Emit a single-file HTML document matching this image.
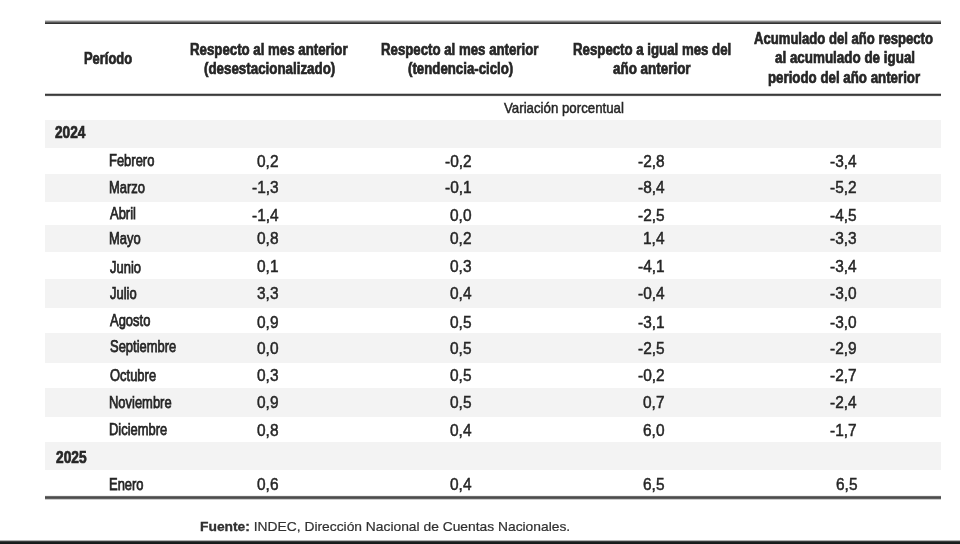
<!DOCTYPE html>
<html><head><meta charset="utf-8"><style>
html,body{margin:0;padding:0;background:#fff;}
body{width:960px;height:544px;position:relative;overflow:hidden;font-family:"Liberation Sans",sans-serif;}
.t{position:absolute;white-space:nowrap;transform-origin:0 0;color:#262626;-webkit-text-stroke:0.5px #262626;}
.b{-webkit-text-stroke:0.7px #262626;}
.m{-webkit-text-stroke:0.75px #262626;}
.band{position:absolute;left:45px;width:896px;background:#f3f3f3;}
.rule{position:absolute;left:45px;width:896px;background:#333;}
#fuente{-webkit-text-stroke:0.2px #262626;color:#333;}
#fuente b{-webkit-text-stroke:0.3px #262626;}
#wrap{position:absolute;left:0;top:0;width:960px;height:544px;filter:blur(0.35px);}
</style></head><body><div id="wrap">
<div class="band" style="top:120.2px;height:27.60000000000001px"></div><div class="band" style="top:174.2px;height:27.5px"></div><div class="band" style="top:225.1px;height:27.400000000000006px"></div><div class="band" style="top:278.6px;height:29.69999999999999px"></div><div class="band" style="top:333.1px;height:29.599999999999966px"></div><div class="band" style="top:387.6px;height:29.399999999999977px"></div><div class="band" style="top:441.8px;height:28.399999999999977px"></div>
<div class="t b" style="left:84.09px;top:49px;font-size:16px;line-height:19px;font-weight:bold;transform:scaleX(0.8080)">Período</div><div class="t b" style="left:190.17px;top:40px;font-size:16px;line-height:19px;font-weight:bold;transform:scaleX(0.8283)">Respecto al mes anterior</div><div class="t b" style="left:204.00px;top:59px;font-size:16px;line-height:19px;font-weight:bold;transform:scaleX(0.8341)">(desestacionalizado)</div><div class="t b" style="left:381.17px;top:40px;font-size:16px;line-height:19px;font-weight:bold;transform:scaleX(0.8272)">Respecto al mes anterior</div><div class="t b" style="left:408.00px;top:59px;font-size:16px;line-height:19px;font-weight:bold;transform:scaleX(0.8280)">(tendencia-ciclo)</div><div class="t b" style="left:573.17px;top:40px;font-size:16px;line-height:19px;font-weight:bold;transform:scaleX(0.8275)">Respecto a igual mes del</div><div class="t b" style="left:613.00px;top:59px;font-size:16px;line-height:19px;font-weight:bold;transform:scaleX(0.8392)">año anterior</div><div class="t b" style="left:754.25px;top:29px;font-size:16px;line-height:19px;font-weight:bold;transform:scaleX(0.8183)">Acumulado del año respecto</div><div class="t b" style="left:775.00px;top:48px;font-size:16px;line-height:19px;font-weight:bold;transform:scaleX(0.8380)">al acumulado de igual</div><div class="t b" style="left:767.97px;top:68px;font-size:16px;line-height:19px;font-weight:bold;transform:scaleX(0.8306)">periodo del año anterior</div><div class="t" style="left:504.00px;top:99px;font-size:15px;line-height:18px;font-weight:normal;transform:scaleX(0.8839)">Variación porcentual</div><div class="t b" style="left:55.40px;top:123px;font-size:16px;line-height:19px;font-weight:bold;transform:scaleX(0.8517)">2024</div><div class="t b" style="left:55.60px;top:448px;font-size:16px;line-height:19px;font-weight:bold;transform:scaleX(0.8573)">2025</div><div class="t m" style="left:109.22px;top:151px;font-size:16.6px;line-height:20px;font-weight:normal;transform:scaleX(0.7807)">Febrero</div><div class="t" style="left:257.45px;top:152px;font-size:17px;line-height:20px;font-weight:normal;transform:scaleX(0.9082)">0,2</div><div class="t" style="left:445.11px;top:152px;font-size:17px;line-height:20px;font-weight:normal;transform:scaleX(0.9082)">-0,2</div><div class="t" style="left:637.81px;top:152px;font-size:17px;line-height:20px;font-weight:normal;transform:scaleX(0.9082)">-2,8</div><div class="t" style="left:830.41px;top:152px;font-size:17px;line-height:20px;font-weight:normal;transform:scaleX(0.9082)">-3,4</div><div class="t m" style="left:109.22px;top:178px;font-size:16.6px;line-height:20px;font-weight:normal;transform:scaleX(0.7807)">Marzo</div><div class="t" style="left:252.31px;top:178px;font-size:17px;line-height:20px;font-weight:normal;transform:scaleX(0.9082)">-1,3</div><div class="t" style="left:445.11px;top:178px;font-size:17px;line-height:20px;font-weight:normal;transform:scaleX(0.9082)">-0,1</div><div class="t" style="left:637.81px;top:178px;font-size:17px;line-height:20px;font-weight:normal;transform:scaleX(0.9082)">-8,4</div><div class="t" style="left:830.41px;top:178px;font-size:17px;line-height:20px;font-weight:normal;transform:scaleX(0.9082)">-5,2</div><div class="t m" style="left:110.00px;top:204px;font-size:16.6px;line-height:20px;font-weight:normal;transform:scaleX(0.7807)">Abril</div><div class="t" style="left:252.31px;top:206px;font-size:17px;line-height:20px;font-weight:normal;transform:scaleX(0.9082)">-1,4</div><div class="t" style="left:450.25px;top:206px;font-size:17px;line-height:20px;font-weight:normal;transform:scaleX(0.9082)">0,0</div><div class="t" style="left:637.81px;top:206px;font-size:17px;line-height:20px;font-weight:normal;transform:scaleX(0.9082)">-2,5</div><div class="t" style="left:830.41px;top:206px;font-size:17px;line-height:20px;font-weight:normal;transform:scaleX(0.9082)">-4,5</div><div class="t m" style="left:109.22px;top:229px;font-size:16.6px;line-height:20px;font-weight:normal;transform:scaleX(0.7807)">Mayo</div><div class="t" style="left:257.45px;top:229px;font-size:17px;line-height:20px;font-weight:normal;transform:scaleX(0.9082)">0,8</div><div class="t" style="left:450.25px;top:229px;font-size:17px;line-height:20px;font-weight:normal;transform:scaleX(0.9082)">0,2</div><div class="t" style="left:642.95px;top:229px;font-size:17px;line-height:20px;font-weight:normal;transform:scaleX(0.9082)">1,4</div><div class="t" style="left:830.41px;top:229px;font-size:17px;line-height:20px;font-weight:normal;transform:scaleX(0.9082)">-3,3</div><div class="t m" style="left:110.00px;top:258px;font-size:16.6px;line-height:20px;font-weight:normal;transform:scaleX(0.7807)">Junio</div><div class="t" style="left:257.45px;top:257px;font-size:17px;line-height:20px;font-weight:normal;transform:scaleX(0.9082)">0,1</div><div class="t" style="left:450.25px;top:257px;font-size:17px;line-height:20px;font-weight:normal;transform:scaleX(0.9082)">0,3</div><div class="t" style="left:637.81px;top:257px;font-size:17px;line-height:20px;font-weight:normal;transform:scaleX(0.9082)">-4,1</div><div class="t" style="left:830.41px;top:257px;font-size:17px;line-height:20px;font-weight:normal;transform:scaleX(0.9082)">-3,4</div><div class="t m" style="left:110.00px;top:284px;font-size:16.6px;line-height:20px;font-weight:normal;transform:scaleX(0.7807)">Julio</div><div class="t" style="left:257.45px;top:284px;font-size:17px;line-height:20px;font-weight:normal;transform:scaleX(0.9082)">3,3</div><div class="t" style="left:450.25px;top:284px;font-size:17px;line-height:20px;font-weight:normal;transform:scaleX(0.9082)">0,4</div><div class="t" style="left:637.81px;top:284px;font-size:17px;line-height:20px;font-weight:normal;transform:scaleX(0.9082)">-0,4</div><div class="t" style="left:830.41px;top:284px;font-size:17px;line-height:20px;font-weight:normal;transform:scaleX(0.9082)">-3,0</div><div class="t m" style="left:110.00px;top:311px;font-size:16.6px;line-height:20px;font-weight:normal;transform:scaleX(0.7807)">Agosto</div><div class="t" style="left:257.45px;top:313px;font-size:17px;line-height:20px;font-weight:normal;transform:scaleX(0.9082)">0,9</div><div class="t" style="left:450.25px;top:313px;font-size:17px;line-height:20px;font-weight:normal;transform:scaleX(0.9082)">0,5</div><div class="t" style="left:637.81px;top:313px;font-size:17px;line-height:20px;font-weight:normal;transform:scaleX(0.9082)">-3,1</div><div class="t" style="left:830.41px;top:313px;font-size:17px;line-height:20px;font-weight:normal;transform:scaleX(0.9082)">-3,0</div><div class="t m" style="left:110.00px;top:337px;font-size:16.6px;line-height:20px;font-weight:normal;transform:scaleX(0.7807)">Septiembre</div><div class="t" style="left:257.45px;top:339px;font-size:17px;line-height:20px;font-weight:normal;transform:scaleX(0.9082)">0,0</div><div class="t" style="left:450.25px;top:339px;font-size:17px;line-height:20px;font-weight:normal;transform:scaleX(0.9082)">0,5</div><div class="t" style="left:637.81px;top:339px;font-size:17px;line-height:20px;font-weight:normal;transform:scaleX(0.9082)">-2,5</div><div class="t" style="left:830.41px;top:339px;font-size:17px;line-height:20px;font-weight:normal;transform:scaleX(0.9082)">-2,9</div><div class="t m" style="left:110.00px;top:366px;font-size:16.6px;line-height:20px;font-weight:normal;transform:scaleX(0.7807)">Octubre</div><div class="t" style="left:257.45px;top:366px;font-size:17px;line-height:20px;font-weight:normal;transform:scaleX(0.9082)">0,3</div><div class="t" style="left:450.25px;top:366px;font-size:17px;line-height:20px;font-weight:normal;transform:scaleX(0.9082)">0,5</div><div class="t" style="left:637.81px;top:366px;font-size:17px;line-height:20px;font-weight:normal;transform:scaleX(0.9082)">-0,2</div><div class="t" style="left:830.41px;top:366px;font-size:17px;line-height:20px;font-weight:normal;transform:scaleX(0.9082)">-2,7</div><div class="t m" style="left:109.22px;top:393px;font-size:16.6px;line-height:20px;font-weight:normal;transform:scaleX(0.7807)">Noviembre</div><div class="t" style="left:257.45px;top:393px;font-size:17px;line-height:20px;font-weight:normal;transform:scaleX(0.9082)">0,9</div><div class="t" style="left:450.25px;top:393px;font-size:17px;line-height:20px;font-weight:normal;transform:scaleX(0.9082)">0,5</div><div class="t" style="left:642.95px;top:393px;font-size:17px;line-height:20px;font-weight:normal;transform:scaleX(0.9082)">0,7</div><div class="t" style="left:830.41px;top:393px;font-size:17px;line-height:20px;font-weight:normal;transform:scaleX(0.9082)">-2,4</div><div class="t m" style="left:109.22px;top:420px;font-size:16.6px;line-height:20px;font-weight:normal;transform:scaleX(0.7807)">Diciembre</div><div class="t" style="left:257.45px;top:421px;font-size:17px;line-height:20px;font-weight:normal;transform:scaleX(0.9082)">0,8</div><div class="t" style="left:450.25px;top:421px;font-size:17px;line-height:20px;font-weight:normal;transform:scaleX(0.9082)">0,4</div><div class="t" style="left:642.95px;top:421px;font-size:17px;line-height:20px;font-weight:normal;transform:scaleX(0.9082)">6,0</div><div class="t" style="left:830.41px;top:421px;font-size:17px;line-height:20px;font-weight:normal;transform:scaleX(0.9082)">-1,7</div><div class="t m" style="left:109.22px;top:475px;font-size:16.6px;line-height:20px;font-weight:normal;transform:scaleX(0.7807)">Enero</div><div class="t" style="left:257.45px;top:475px;font-size:17px;line-height:20px;font-weight:normal;transform:scaleX(0.9082)">0,6</div><div class="t" style="left:450.25px;top:475px;font-size:17px;line-height:20px;font-weight:normal;transform:scaleX(0.9082)">0,4</div><div class="t" style="left:642.95px;top:475px;font-size:17px;line-height:20px;font-weight:normal;transform:scaleX(0.9082)">6,5</div><div class="t" style="left:835.55px;top:475px;font-size:17px;line-height:20px;font-weight:normal;transform:scaleX(0.9082)">6,5</div>
<div class="t" id="fuente" style="left:199.90px;top:519px;font-size:13px;line-height:16px;transform:scaleX(1.0629)"><b>Fuente:</b> INDEC, Dirección Nacional de Cuentas Nacionales.</div>
</div>
<div class="rule" style="top:20px;height:1px;background:#d0d0d0"></div><div class="rule" style="top:21px;height:1px;background:#8a8a8a"></div><div class="rule" style="top:22px;height:1px;background:#555555"></div><div class="rule" style="top:23px;height:1px;background:#333333"></div><div class="rule" style="top:93px;height:1px;background:#c8c8c8"></div><div class="rule" style="top:94px;height:1px;background:#3a3a3a"></div><div class="rule" style="top:95px;height:1px;background:#555555"></div><div class="rule" style="top:96px;height:1px;background:#f0f0f0"></div><div class="rule" style="top:495px;height:1px;background:#f0f0f0"></div><div class="rule" style="top:496px;height:1px;background:#6a6a6a"></div><div class="rule" style="top:497px;height:1px;background:#4c4c4c"></div><div class="rule" style="top:498px;height:1px;background:#606060"></div><div class="rule" style="top:499px;height:1px;background:#cccccc"></div>
<div style="position:absolute;left:0;top:540px;width:960px;height:1px;background:#b4b4b4"></div><div style="position:absolute;left:0;top:541px;width:960px;height:1px;background:#3c3e3e"></div><div style="position:absolute;left:0;top:542px;width:960px;height:1px;background:#1a1e1e"></div><div style="position:absolute;left:0;top:543px;width:960px;height:1px;background:#161a1a"></div>
</body></html>
